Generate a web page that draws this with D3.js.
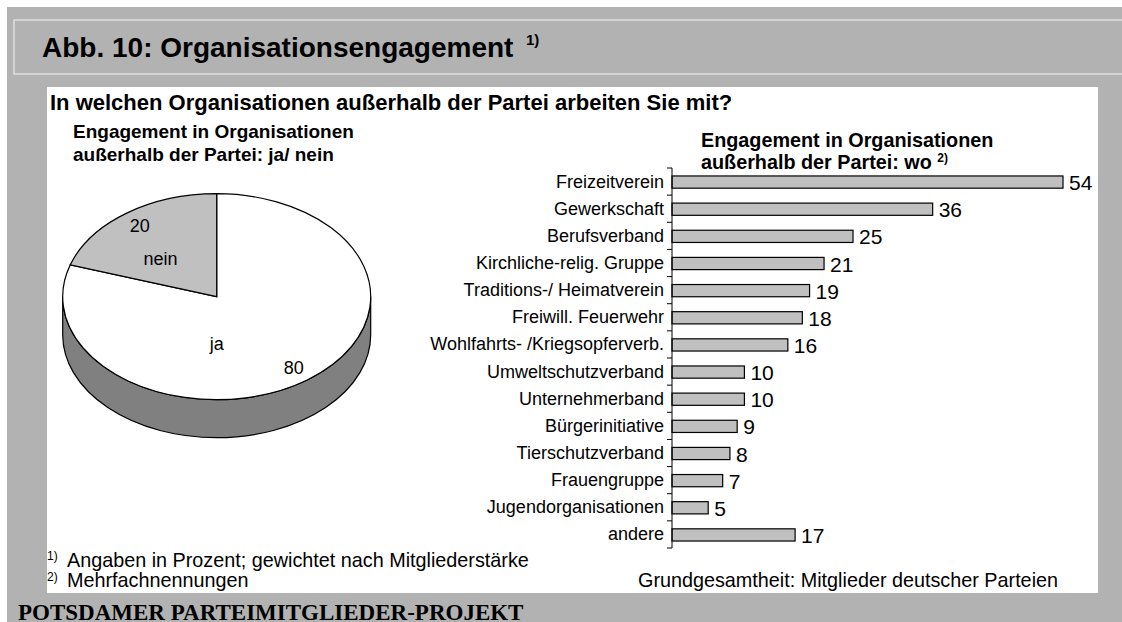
<!DOCTYPE html>
<html>
<head>
<meta charset="utf-8">
<script src="https://cdn.jsdelivr.net/npm/d3@7"></script>
<style>
  body { margin: 0; background: #fff; }
  svg { display: block; font-family: "Liberation Sans", Arial, sans-serif; }
</style>
</head>
<body>
<svg id="chart" width="1122" height="622"></svg>
<script>
// Kreisdiagramm: ja / nein
const pieLabels = ["ja", "nein"];
const pieValues = [80, 20];
const pieColors = ["#ffffff", "#c0c0c0"];

// Balkendiagramm: wo
const categories = [
    "Freizeitverein", "Gewerkschaft", "Berufsverband", "Kirchliche-relig. Gruppe",
    "Traditions-/ Heimatverein", "Freiwill. Feuerwehr", "Wohlfahrts- /Kriegsopferverb.",
    "Umweltschutzverband", "Unternehmerband", "Bürgerinitiative", "Tierschutzverband",
    "Frauengruppe", "Jugendorganisationen", "andere"
];
const values = [54, 36, 25, 21, 19, 18, 16, 10, 10, 9, 8, 7, 5, 17];

const svg = d3.select("#chart");

//Hintergrund
svg.append("rect")
    .attr("x", 7).attr("y", 7)
    .attr("width", 1122).attr("height", 622)
    .attr("fill", "#b2b2b2");

//Titelrahmen
svg.append("path")
    .attr("d", "M1130,20 L14,20 L14,74 L1130,74")
    .attr("fill", "none")
    .attr("stroke", "#dedede")
    .attr("stroke-width", 1.5);

svg.append("text")
    .attr("x", 42).attr("y", 57)
    .style("font-size", "28px").style("font-weight", "bold")
    .text("Abb. 10: Organisationsengagement");
svg.append("text")
    .attr("x", 526).attr("y", 45)
    .style("font-size", "15px").style("font-weight", "bold")
    .text("1)");

//weisse Flaeche
svg.append("rect")
    .attr("x", 47).attr("y", 87)
    .attr("width", 1051).attr("height", 506)
    .attr("fill", "#fff");

svg.append("text")
    .attr("x", 50).attr("y", 110)
    .style("font-size", "22px").style("font-weight", "bold")
    .text("In welchen Organisationen außerhalb der Partei arbeiten Sie mit?");

const pieTitle = svg.append("text")
    .style("font-size", "19px").style("font-weight", "bold");
pieTitle.append("tspan").attr("x", 73).attr("y", 138).text("Engagement in Organisationen");
pieTitle.append("tspan").attr("x", 73).attr("y", 161).text("außerhalb der Partei: ja/ nein");

const barTitle = svg.append("text")
    .style("font-size", "19.8px").style("font-weight", "bold");
barTitle.append("tspan").attr("x", 701).attr("y", 147).text("Engagement in Organisationen");
barTitle.append("tspan").attr("x", 701).attr("y", 169).text("außerhalb der Partei: wo ");
barTitle.append("tspan").attr("dy", -7).style("font-size", "12px").text("2)");

// ---------- 3D Kreis ----------
const cx = 216.7, cy = 296.7, rx = 154, ry = 103, depth = 38;
const pt = (a, k = 1) => [cx + rx * k * Math.sin(a), cy - ry * k * Math.cos(a)];

const oPie = svg.append("g");

//Seitenwand
oPie.append("path")
    .attr("d", `M${cx - rx},${cy} L${cx - rx},${cy + depth} A${rx},${ry} 0 0 0 ${cx + rx},${cy + depth} L${cx + rx},${cy} A${rx},${ry} 0 0 1 ${cx - rx},${cy} Z`)
    .attr("fill", "#808080")
    .attr("stroke", "#000")
    .attr("stroke-width", 1.2);

const pieData = pieLabels.map((l, i) => ({ label: l, value: pieValues[i], color: pieColors[i] }));
const arcs = d3.pie().sort(null).value(d => d.value)(pieData);

oPie.selectAll("path.slice")
    .data(arcs)
    .join("path")
    .attr("class", "slice")
    .attr("d", d => {
        const p0 = pt(d.startAngle), p1 = pt(d.endAngle);
        const large = d.endAngle - d.startAngle > Math.PI ? 1 : 0;
        return `M${cx},${cy} L${p0[0]},${p0[1]} A${rx},${ry} 0 ${large} 1 ${p1[0]},${p1[1]} Z`;
    })
    .attr("fill", d => d.data.color)
    .attr("stroke", "#000")
    .attr("stroke-width", 1.2);

//Werte
oPie.selectAll("text.val")
    .data(arcs)
    .join("text")
    .attr("class", "val")
    .attr("x", d => pt((d.startAngle + d.endAngle) / 2, 0.85)[0])
    .attr("y", d => pt((d.startAngle + d.endAngle) / 2, 0.85)[1])
    .attr("text-anchor", "middle")
    .attr("dominant-baseline", "central")
    .style("font-size", "18px")
    .text(d => d.value);

//Namen
const nameLbl = { ja: [Math.PI, 0.46], nein: [315 * Math.PI / 180, 0.515] };
oPie.selectAll("text.name")
    .data(arcs)
    .join("text")
    .attr("class", "name")
    .attr("x", d => pt(nameLbl[d.data.label][0], nameLbl[d.data.label][1])[0])
    .attr("y", d => pt(nameLbl[d.data.label][0], nameLbl[d.data.label][1])[1])
    .attr("text-anchor", "middle")
    .attr("dominant-baseline", "central")
    .style("font-size", "18px")
    .text(d => d.data.label);

// ---------- Balken ----------
const x = d3.scaleLinear().domain([0, 54]).range([672, 1063]);
const y = d3.scaleBand().domain(categories).range([168, 548])
    .paddingInner(0.55).paddingOuter(0.275);

const oBars = svg.append("g");

oBars.selectAll("rect")
    .data(values)
    .join("rect")
    .attr("x", x(0))
    .attr("y", (d, i) => y(categories[i]) + 0.5)
    .attr("width", d => x(d) - x(0))
    .attr("height", y.bandwidth())
    .attr("fill", "#c0c0c0")
    .attr("stroke", "#000")
    .attr("stroke-width", 1.2);

oBars.selectAll("text.v")
    .data(values)
    .join("text")
    .attr("class", "v")
    .attr("x", d => x(d) + 6)
    .attr("y", (d, i) => y(categories[i]) + y.bandwidth() / 2 + 1)
    .attr("dominant-baseline", "central")
    .style("font-size", "21px")
    .text(d => d);

//Achse
const oAxis = svg.append("g");
oAxis.append("line")
    .attr("x1", x(0)).attr("x2", x(0))
    .attr("y1", y.range()[0]).attr("y2", y.range()[1])
    .attr("stroke", "#000");
const bounds = categories.map(c => y(c) - y.step() * y.paddingInner() / 2).concat([y.range()[1]]);
oAxis.selectAll("line.tick")
    .data(bounds)
    .join("line")
    .attr("class", "tick")
    .attr("x1", x(0) - 5).attr("x2", x(0))
    .attr("y1", d => d).attr("y2", d => d)
    .attr("stroke", "#000");
oAxis.selectAll("text")
    .data(categories)
    .join("text")
    .attr("x", x(0) - 8)
    .attr("y", d => y(d) + y.bandwidth() / 2)
    .attr("text-anchor", "end")
    .attr("dominant-baseline", "central")
    .style("font-size", "18px")
    .text(d => d);

// ---------- Fussnoten ----------
svg.append("text").attr("x", 47).attr("y", 560).style("font-size", "12px").text("1)");
svg.append("text").attr("x", 67).attr("y", 567).style("font-size", "19.8px")
    .text("Angaben in Prozent; gewichtet nach Mitgliederstärke");
svg.append("text").attr("x", 47).attr("y", 581).style("font-size", "12px").text("2)");
svg.append("text").attr("x", 67).attr("y", 587).style("font-size", "19.8px")
    .text("Mehrfachnennungen");
svg.append("text").attr("x", 638).attr("y", 587).style("font-size", "19.8px")
    .text("Grundgesamtheit: Mitglieder deutscher Parteien");

svg.append("text")
    .attr("x", 18).attr("y", 620)
    .style("font-family", "'Liberation Serif', 'Times New Roman', serif")
    .style("font-size", "23px").style("font-weight", "bold")
    .text("POTSDAMER PARTEIMITGLIEDER-PROJEKT");
</script>
</body>
</html>
